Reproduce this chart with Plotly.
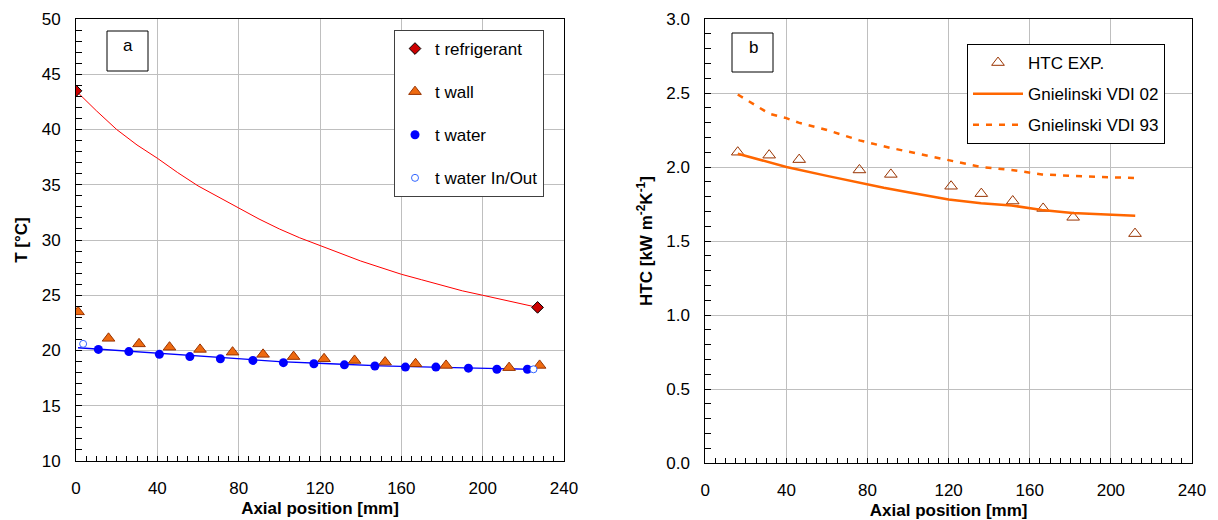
import plotly.graph_objects as go

W, H = 1218, 520

# ---------------- Panel a data ----------------
refr_x = [0, 227]
refr_y = [43.5, 23.9]
refr_line_x = [0, 10, 20, 30, 40, 50, 60, 70, 80, 90, 100, 110, 120, 130, 140, 150, 160, 170, 180, 190, 200, 210, 220, 227]
refr_line_y = [43.5, 41.7, 40.0, 38.6, 37.4, 36.1, 34.9, 33.9, 32.9, 31.9, 31.0, 30.2, 29.5, 28.8, 28.1, 27.5, 26.9, 26.4, 25.9, 25.4, 25.0, 24.6, 24.2, 23.9]

wall_x = [1, 16, 31, 46, 61, 77, 92, 107, 122, 137, 152, 167, 182, 213, 228]
wall_y = [23.5, 21.1, 20.6, 20.3, 20.1, 19.85, 19.65, 19.45, 19.25, 19.1, 18.95, 18.8, 18.65, 18.45, 18.65]

water_x = [11, 26, 41, 56, 71, 87, 102, 117, 132, 147, 162, 177, 193, 207, 222]
water_y = [20.1, 19.9, 19.65, 19.45, 19.25, 19.1, 18.9, 18.8, 18.7, 18.6, 18.5, 18.5, 18.4, 18.3, 18.3]
water_fit_x = [1, 25, 50, 75, 100, 125, 150, 175, 200, 225]
water_fit_y = [20.25, 19.95, 19.6, 19.3, 19.0, 18.8, 18.6, 18.5, 18.4, 18.3]

water_io_x = [3.5, 225]
water_io_y = [20.6, 18.3]

# ---------------- Panel b data ----------------
htc_x = [16, 31.5, 46.3, 76, 91.5, 121.2, 136.1, 151.6, 166.6, 181.4, 211.9]
htc_y = [2.10, 2.08, 2.05, 1.98, 1.95, 1.87, 1.82, 1.77, 1.72, 1.66, 1.55]

vdi02_x = [16, 31.5, 40, 60, 80, 88, 100, 120, 136, 151, 166, 181, 195, 212]
vdi02_y = [2.09, 2.03, 2.00, 1.94, 1.88, 1.86, 1.83, 1.78, 1.755, 1.74, 1.71, 1.69, 1.68, 1.67]

vdi93_x = [16, 31.5, 40, 46, 60, 76, 91, 101, 121, 136, 151, 166, 181, 212]
vdi93_y = [2.49, 2.36, 2.33, 2.30, 2.25, 2.18, 2.13, 2.10, 2.04, 2.00, 1.98, 1.95, 1.94, 1.925]

x_ticks = [0, 40, 80, 120, 160, 200, 240]

FONT = "Liberation Sans, Arial, sans-serif"
ORANGE = "#FF6600"

fig = go.Figure()

# panel a traces
fig.add_trace(go.Scatter(x=refr_line_x, y=refr_line_y, mode="lines", line=dict(color="#FF0000", width=1),
                         showlegend=False, xaxis="x", yaxis="y", hoverinfo="skip"))
fig.add_trace(go.Scatter(x=water_fit_x, y=water_fit_y, mode="lines", line=dict(color="#0000FF", width=1.3),
                         showlegend=False, xaxis="x", yaxis="y", hoverinfo="skip"))
fig.add_trace(go.Scatter(x=refr_x, y=refr_y, mode="markers", name="t refrigerant",
                         marker=dict(symbol="diamond", size=9, color="#CC0000", line=dict(color="#000000", width=1)),
                         xaxis="x", yaxis="y", legend="legend", legendgroup="a1"))
fig.add_trace(go.Scatter(x=wall_x, y=wall_y, mode="markers", name="t wall",
                         marker=dict(symbol="triangle-up", size=11, color="#EE6A10", line=dict(color="#993300", width=1)),
                         xaxis="x", yaxis="y", legend="legend", legendgroup="a2"))
fig.add_trace(go.Scatter(x=water_x, y=water_y, mode="markers", name="t water",
                         marker=dict(symbol="circle", size=9, color="#0000FF", line=dict(width=0)),
                         xaxis="x", yaxis="y", legend="legend", legendgroup="a3"))
fig.add_trace(go.Scatter(x=water_io_x, y=water_io_y, mode="markers", name="t water In/Out",
                         marker=dict(symbol="circle", size=7, color="#FFFFFF", line=dict(color="#3366FF", width=1)),
                         xaxis="x", yaxis="y", legend="legend", legendgroup="a4"))

# panel b traces
fig.add_trace(go.Scatter(x=htc_x, y=htc_y, mode="markers", name="HTC EXP.",
                         marker=dict(symbol="triangle-up-open", size=11, color="#993300", line=dict(width=1)),
                         xaxis="x2", yaxis="y2", legend="legend2", legendgroup="b1"))
fig.add_trace(go.Scatter(x=vdi02_x, y=vdi02_y, mode="lines", name="Gnielinski VDI 02",
                         line=dict(color=ORANGE, width=2.5),
                         xaxis="x2", yaxis="y2", legend="legend2", legendgroup="b2"))
fig.add_trace(go.Scatter(x=vdi93_x, y=vdi93_y, mode="lines", name="Gnielinski VDI 93",
                         line=dict(color=ORANGE, width=2.5, dash="6px,7px"),
                         xaxis="x2", yaxis="y2", legend="legend2", legendgroup="b3"))

def xaxis_common(domain):
    return dict(domain=domain, range=[0, 240], tickvals=x_ticks, ticks="inside", ticklen=5,
                tickcolor="#000", showline=True, linecolor="#000", linewidth=1, mirror=True,
                showgrid=True, gridcolor="#BFBFBF", gridwidth=1, zeroline=False,
                minor=dict(dtick=5, ticks="inside", ticklen=5, tickcolor="#000", showgrid=False),
                tickfont=dict(size=17, color="#000", family=FONT), ticklabelstandoff=12,
                title=dict(text="<b>Axial position [mm]</b>", font=dict(size=17, color="#000", family=FONT), standoff=4))

fig.update_layout(
    width=W, height=H, margin=dict(l=0, r=0, t=0, b=0, autoexpand=False),
    paper_bgcolor="white", plot_bgcolor="white",
    font=dict(family=FONT, color="#000"),
    xaxis=xaxis_common([76 / W, 564 / W]),
    xaxis2=dict(xaxis_common([705.3 / W, 1192 / W]), anchor="y2"),
    yaxis=dict(domain=[(H - 461) / H, (H - 19) / H], range=[10, 50], dtick=5, ticks="inside", ticklen=6,
               tickcolor="#000", showline=True, linecolor="#000", linewidth=1, mirror=True,
               showgrid=True, gridcolor="#BFBFBF", zeroline=False,
               minor=dict(dtick=1, ticks="inside", ticklen=6, tickcolor="#000", showgrid=False),
               tickfont=dict(size=17, color="#000", family=FONT), ticklabelstandoff=11,
               title=dict(text="<b>T [°C]</b>", font=dict(size=17, color="#000", family=FONT), standoff=9)),
    yaxis2=dict(domain=[(H - 463) / H, (H - 19) / H], range=[0, 3.0], dtick=0.5, tickformat=".1f",
                ticks="inside", ticklen=6, anchor="x2",
                tickcolor="#000", showline=True, linecolor="#000", linewidth=1, mirror=True,
                showgrid=True, gridcolor="#BFBFBF", zeroline=False,
                minor=dict(dtick=0.1, ticks="inside", ticklen=6, tickcolor="#000", showgrid=False),
                tickfont=dict(size=17, color="#000", family=FONT), ticklabelstandoff=11,
                title=dict(text="<b>HTC [kW m<sup>-2</sup>K<sup>-1</sup>]</b>",
                           font=dict(size=17, color="#000", family=FONT), standoff=9)),
    legend=dict(x=394 / W, y=1 - 30 / H, xanchor="left", yanchor="top", bgcolor="white",
                bordercolor="#404040", borderwidth=1, traceorder="grouped", tracegroupgap=18,
                font=dict(size=17, color="#000", family=FONT)),
    legend2=dict(x=967 / W, y=1 - 44 / H, xanchor="left", yanchor="top", bgcolor="white",
                 bordercolor="#000", borderwidth=1, traceorder="grouped", tracegroupgap=6,
                 itemwidth=50, font=dict(size=17, color="#000", family=FONT)),
    shapes=[
        dict(type="rect", xref="paper", yref="paper", x0=107 / W, x1=148 / W, y0=1 - 71 / H, y1=1 - 31 / H,
             line=dict(color="#000", width=1), fillcolor="white", layer="above"),
        dict(type="rect", xref="paper", yref="paper", x0=732 / W, x1=773 / W, y0=1 - 72 / H, y1=1 - 33 / H,
             line=dict(color="#000", width=1), fillcolor="white", layer="above"),
    ],
    annotations=[
        dict(text="a", xref="paper", yref="paper", x=128 / W, y=1 - 45 / H, showarrow=False,
             xanchor="center", yanchor="middle", font=dict(size=17, color="#000", family=FONT)),
        dict(text="b", xref="paper", yref="paper", x=753 / W, y=1 - 47 / H, showarrow=False,
             xanchor="center", yanchor="middle", font=dict(size=17, color="#000", family=FONT)),
    ],
)

fig.write_html("out.html")
